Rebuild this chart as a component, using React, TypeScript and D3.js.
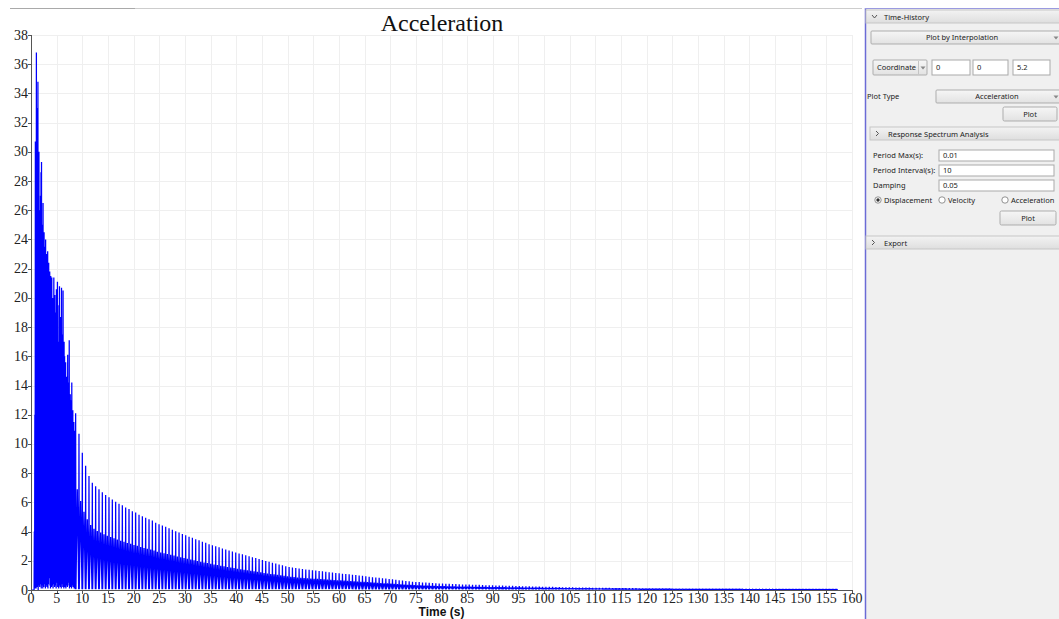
import React from "react";
import * as d3 from "d3";

// signal sits on zero until the shaking starts
const LEAD_IN_END = 0.6;

// strong-motion phase, one local top / bottom every 0.1 s
const DENSE_T0 = 0.6;
const DENSE_DT = 0.1;
const denseTop = [
  4, 12, 30.7, 25, 36.8, 28, 33, 34.8, 27, 30,
  26, 24, 27, 28.6, 29.3, 25, 24, 26.5, 23, 24.5,
  22, 23.5, 24, 22.5, 23, 22, 23.2, 21, 22.4, 20.5,
  21.8, 20, 21.5, 19, 21.4, 18.4, 20, 19.2, 21.4, 16.3,
  20.2, 19, 18, 20.6, 15.8, 21.1, 17, 14.3, 19.5, 20.8,
  16, 18.7, 15, 20.7, 17.5, 16.8, 20.5, 15.5, 17, 16,
  14.5, 15.6, 13.8, 14.6, 13.6, 16.1, 12.8, 14.2, 17.1, 12.4,
  13.4, 11.8, 13, 14.2, 11.6, 12.3, 10.8, 11.5, 10.3, 10.9,
  9.8,
];
const denseBottom = [
  0, 0.2, 0.1, 0.3, 0.1, 0.5, 0.2, 0.4, 0, 0.3,
  1.2, 0.2, 2.3, 0.4, 0.1, 0.6, 0.3, 0.1, 0.5, 0.2,
  0.7, 0.4, 0.1, 0.6, 0.3, 0.2, 0.5, 0.1, 0.4, 0.8,
  1.9, 0.3, 0.1, 0.5, 0.2, 0.6, 0.3, 0.1, 0.7, 0.4,
  0.2, 0.6, 0.3, 0.1, 0.5, 0.8, 0.2, 0.4, 0.1, 0.6,
  0.3, 0.2, 0.5, 0.1, 0.4, 0.7, 0.2, 0.3, 0.1, 0.5,
  0.2, 0.4, 0.1, 0.6, 0.3, 0.2, 0.5, 1.0, 0.3, 0.1,
  0.4, 0.2, 0.5, 0.1, 0.3, 0.6, 0.2, 0.4, 0.1, 0.3,
  0.1,
];

// free decay: peak of each cycle, cycles 0.65 s apart
const CYCLE_T0 = 8.7;
const CYCLE_PERIOD = 0.65;
const cyclePeaks = [
  12.1, 10.7, 9.4, 8.5, 7.8, 7.35, 7.1, 6.9, 6.7, 6.5,
  6.35, 6.2, 6.05, 5.9, 5.8, 5.65, 5.55, 5.4, 5.3, 5.15,
  5.05, 4.95, 4.85, 4.75, 4.6, 4.5, 4.42, 4.33, 4.23, 4.13,
  4.03, 3.94, 3.84, 3.74, 3.65, 3.57, 3.48, 3.4, 3.31, 3.23,
  3.14, 3.06, 2.99, 2.92, 2.84, 2.77, 2.7, 2.63, 2.56, 2.5,
  2.44, 2.38, 2.31, 2.25, 2.19, 2.12, 2.05, 1.99, 1.93, 1.87,
  1.81, 1.75, 1.69, 1.63, 1.58, 1.54, 1.5, 1.47, 1.44, 1.41,
  1.38, 1.35, 1.33, 1.3, 1.28, 1.25, 1.22, 1.2, 1.17, 1.15,
  1.12, 1.09, 1.07, 1.04, 1.02, 0.99, 0.97, 0.94, 0.91, 0.88,
  0.86, 0.83, 0.8, 0.78, 0.75, 0.73, 0.7, 0.67, 0.65, 0.62,
  0.6, 0.57, 0.55, 0.54, 0.52, 0.51, 0.49, 0.48, 0.46, 0.45,
  0.44, 0.43, 0.42, 0.41, 0.4, 0.39, 0.38, 0.38, 0.37, 0.36,
  0.35, 0.35, 0.34, 0.33, 0.32, 0.32, 0.31, 0.3, 0.3, 0.29,
  0.28, 0.28, 0.27, 0.27, 0.26, 0.25, 0.25, 0.24, 0.23, 0.23,
  0.22, 0.22, 0.21, 0.21, 0.2, 0.2, 0.19, 0.19, 0.18, 0.18,
  0.17, 0.17, 0.16, 0.16, 0.16, 0.15, 0.15, 0.15, 0.14, 0.14,
  0.14, 0.13, 0.13, 0.13, 0.13, 0.12, 0.12, 0.12, 0.12, 0.11,
  0.11, 0.11, 0.11, 0.1, 0.1, 0.1, 0.1, 0.1, 0.1, 0.09,
  0.09, 0.09, 0.09, 0.09, 0.08, 0.08, 0.08, 0.08, 0.08, 0.08,
  0.08, 0.08, 0.07, 0.07, 0.07, 0.07, 0.07, 0.07, 0.07, 0.07,
  0.06, 0.06, 0.06, 0.06, 0.06, 0.06, 0.06, 0.06, 0.06, 0.06,
  0.06, 0.05, 0.05, 0.05, 0.05, 0.05, 0.05, 0.05, 0.05, 0.05,
  0.05, 0.05, 0.05, 0.04, 0.04, 0.04, 0.04, 0.04, 0.04,
];
// secondary hump between peaks sits at about this share of the peak
const RIDGE_FRACTION = 0.57;
const TROUGH = 0.05;

const xTickValues = [
  0, 5, 10, 15, 20, 25, 30, 35, 40, 45, 50, 55, 60, 65, 70, 75, 80,
  85, 90, 95, 100, 105, 110, 115, 120, 125, 130, 135, 140, 145, 150, 155, 160,
];
const yTickValues = [
  0, 2, 4, 6, 8, 10, 12, 14, 16, 18, 20, 22, 24, 26, 28, 30, 32, 34, 36, 38,
];

const W = 1059;
const H = 619;
const serif = "'Liberation Serif', 'Times New Roman', serif";
const ui = "'Noto Sans', 'Open Sans', sans-serif";

function buildSignal(): [number, number][] {
  const pts: [number, number][] = [
    [0, 0],
    [LEAD_IN_END, 0],
  ];
  denseTop.forEach((top, i) => {
    const t = DENSE_T0 + i * DENSE_DT;
    pts.push([t, denseBottom[i]]);
    pts.push([t + DENSE_DT / 2, top]);
  });
  cyclePeaks.forEach((p, i) => {
    const t = CYCLE_T0 + i * CYCLE_PERIOD;
    pts.push([t - 0.06, TROUGH]);
    pts.push([t, p]);
    pts.push([t + 0.06, TROUGH]);
    pts.push([t + CYCLE_PERIOD / 2, p * RIDGE_FRACTION]);
  });
  return pts;
}

const Header = ({ x, y, w, label, open }) => (
  <g>
    <rect x={x} y={y} width={w} height={13} fill="url(#hdr)" stroke="#c6c6c6" />
    {open ? (
      <path d={`M${x + 6},${y + 5} l2.5,3 l2.5,-3`} fill="none" stroke="#555" strokeWidth={1} />
    ) : (
      <path d={`M${x + 6},${y + 4} l2.5,2.5 l-2.5,2.5`} fill="none" stroke="#555" strokeWidth={1} />
    )}
    <text x={x + 18} y={y + 9.5} fontSize={7.5} fontFamily={ui} fill="#222">
      {label}
    </text>
  </g>
);

// labelX: where the label is centred (or starts, when left aligned)
const Combo = ({ x, y, w, h, label, labelX, center, arrowX }) => (
  <g>
    <rect x={x} y={y} width={w} height={h} rx={1} fill="url(#btn)" stroke="#adadad" />
    <text
      x={labelX}
      y={y + h / 2 + 2.7}
      textAnchor={center ? "middle" : "start"}
      fontSize={7.5}
      fontFamily={ui}
      fill="#222"
    >
      {label}
    </text>
    <path d={`M${arrowX - 2.5},${y + h / 2 - 1} l2.5,3 l2.5,-3 z`} fill="#888" />
  </g>
);

const Input = ({ x, y, w, h, value }) => (
  <g>
    <rect x={x} y={y} width={w} height={h} fill="#fff" stroke="#a9a9a9" />
    <text x={x + 4} y={y + h / 2 + 2.7} fontSize={7.5} fontFamily={ui} fill="#222">
      {value}
    </text>
  </g>
);

const Button = ({ x, y, w, h, label }) => (
  <g>
    <rect x={x} y={y} width={w} height={h} rx={1.5} fill="url(#btn)" stroke="#adadad" />
    <text x={x + w / 2} y={y + h / 2 + 2.7} textAnchor="middle" fontSize={7.5} fontFamily={ui} fill="#222">
      {label}
    </text>
  </g>
);

const Label = ({ x, y, text }) => (
  <text x={x} y={y} fontSize={7.5} fontFamily={ui} fill="#222">
    {text}
  </text>
);

const Radio = ({ x, y, label, checked }) => (
  <g>
    <circle cx={x} cy={y} r={3.2} fill="#fff" stroke="#777" strokeWidth={0.8} />
    {checked && <circle cx={x} cy={y} r={1.7} fill="#333" />}
    <text x={x + 6} y={y + 2.7} fontSize={7.5} fontFamily={ui} fill="#222">
      {label}
    </text>
  </g>
);

export default function App() {
  const x = d3.scaleLinear().domain([0, 160]).range([31, 852]);
  const y = d3.scaleLinear().domain([0, 38]).range([590, 35]);
  const [x0, x1] = x.range();
  const [y0, y1] = y.range();

  const line = d3
    .line<[number, number]>()
    .x((d) => x(d[0]))
    .y((d) => y(d[1]));
  const signal = buildSignal();

  return (
    <svg
      width={W}
      height={H}
      style={{ position: "fixed", left: 0, top: 0, background: "#fff" }}
    >
      <defs>
        <linearGradient id="hdr" x1="0" y1="0" x2="0" y2="1">
          <stop offset="0" stopColor="#f3f3f3" />
          <stop offset="1" stopColor="#dedede" />
        </linearGradient>
        <linearGradient id="btn" x1="0" y1="0" x2="0" y2="1">
          <stop offset="0" stopColor="#f6f6f6" />
          <stop offset="1" stopColor="#e2e2e2" />
        </linearGradient>
      </defs>

      {/* tab strip line above the plot */}
      <line x1={10} x2={862} y1={8.5} y2={8.5} stroke="#cdcdcd" />
      <line x1={10} x2={135} y1={8.5} y2={8.5} stroke="#a9a9a9" />

      {/* grid */}
      {xTickValues.map((v) => (
        <line
          key={`gx${v}`}
          x1={Math.round(x(v)) + 0.5}
          x2={Math.round(x(v)) + 0.5}
          y1={y1}
          y2={y0}
          stroke="#efefef"
        />
      ))}
      {yTickValues.map((v) => (
        <line
          key={`gy${v}`}
          x1={x0}
          x2={x1}
          y1={Math.round(y(v)) + 0.5}
          y2={Math.round(y(v)) + 0.5}
          stroke="#efefef"
        />
      ))}

      <text x={442} y={31} textAnchor="middle" fontSize={24} fontFamily={serif} fill="#111">
        Acceleration
      </text>

      {/* signal */}
      <path
        d={line(signal) ?? ""}
        fill="none"
        stroke="#0000ff"
        strokeWidth={1.25}
        strokeLinejoin="bevel"
      />

      {/* axes */}
      <line x1={x0 + 0.5} x2={x0 + 0.5} y1={y1} y2={y0} stroke="#555" />
      <line x1={x0} x2={x1} y1={y0 + 0.5} y2={y0 + 0.5} stroke="#555" />
      {yTickValues.map((v) => (
        <g key={`ty${v}`}>
          <line x1={x0 - 3} x2={x0} y1={Math.round(y(v)) + 0.5} y2={Math.round(y(v)) + 0.5} stroke="#555" />
          <text x={x0 - 3} y={y(v) + 4.5} textAnchor="end" fontSize={14} fontFamily={serif} fill="#222">
            {v}
          </text>
        </g>
      ))}
      {xTickValues.map((v) => (
        <g key={`tx${v}`}>
          <line x1={Math.round(x(v)) + 0.5} x2={Math.round(x(v)) + 0.5} y1={y0} y2={y0 + 4} stroke="#555" />
          <text x={x(v)} y={603} textAnchor="middle" fontSize={14} fontFamily={serif} fill="#222">
            {v}
          </text>
        </g>
      ))}
      <text
        x={(x0 + x1) / 2}
        y={616}
        textAnchor="middle"
        fontSize={12}
        fontWeight="bold"
        fontFamily="'Liberation Sans', Arial, sans-serif"
        fill="#111"
      >
        Time (s)
      </text>

      {/* side panel */}
      <rect x={865} y={8} width={200} height={H} fill="#f0f0f0" />
      <line x1={865.5} x2={865.5} y1={8} y2={H} stroke="#6b6bd6" strokeWidth={1.5} />
      <line x1={865} x2={W} y1={8.5} y2={8.5} stroke="#9a9ae0" />

      <Header x={866} y={10} w={200} label="Time-History" open />
      <Combo x={871} y={31} w={200} h={13} label="Plot by Interpolation" labelX={962} center arrowX={1056} />

      <Combo x={873} y={60} w={54} h={15} label="Coordinate" labelX={877} center={false} arrowX={923} />
      <line x1={918.5} x2={918.5} y1={61} y2={74} stroke="#c4c4c4" />
      <Input x={932} y={60} w={38} h={15} value="0" />
      <Input x={973} y={60} w={35} h={15} value="0" />
      <Input x={1013} y={60} w={37} h={15} value="5.2" />

      <Label x={867} y={99} text="Plot Type" />
      <Combo x={936} y={90} w={130} h={13} label="Acceleration" labelX={997} center arrowX={1056} />
      <Button x={1003} y={107} w={54} h={14} label="Plot" />

      <Header x={870} y={127} w={200} label="Response Spectrum Analysis" open={false} />
      <Label x={873} y={158} text="Period Max(s):" />
      <Input x={939} y={150} w={115} h={11} value="0.01" />
      <Label x={873} y={173} text="Period Interval(s):" />
      <Input x={939} y={165} w={115} h={11} value="10" />
      <Label x={873} y={188} text="Damping" />
      <Input x={939} y={180} w={115} h={11} value="0.05" />
      <Radio x={878} y={200} label="Displacement" checked />
      <Radio x={942} y={200} label="Velocity" checked={false} />
      <Radio x={1005} y={200} label="Acceleration" checked={false} />
      <Button x={1000} y={211} w={56} h={14} label="Plot" />

      <Header x={866} y={236} w={200} label="Export" open={false} />
    </svg>
  );
}
